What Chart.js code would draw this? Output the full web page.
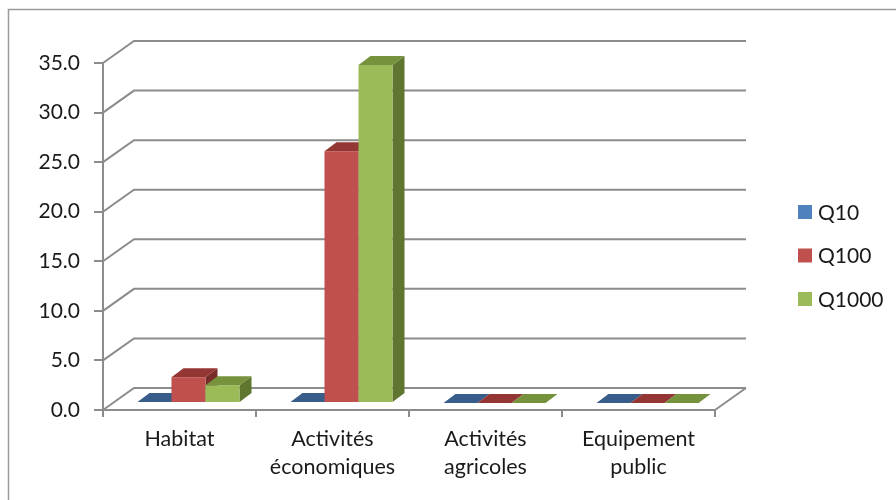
<!DOCTYPE html>
<html>
<head>
<meta charset="utf-8">
<script src="https://cdn.jsdelivr.net/npm/chart.js@4"></script>
<style>
  html, body { margin: 0; padding: 0; background: #fff; }
  #wrap { width: 896px; height: 500px; }
</style>
</head>
<body>
<div id="wrap"><canvas id="chart" width="896" height="500"></canvas></div>
<script>
const categories = [['Habitat'], ['Activités', 'économiques'], ['Activités', 'agricoles'], ['Equipement', 'public']]
const seriesNames = ['Q10', 'Q100', 'Q1000']
const q10 = [0.1, 0.1, 0, 0]
const q100 = [2.6, 25.4, 0, 0]
const q1000 = [1.8, 34.1, 0, 0]
const yTicks = [0, 5, 10, 15, 20, 25, 30, 35]

const FONT = 'Lato, "Open Sans", sans-serif'
const GRID = '#8c8c8c'
// front / top / side colours for each series
const SHADES = [
  { front: '#4f81bd', top: '#385d8a', side: '#2c4d75' },
  { front: '#c0504d', top: '#943634', side: '#772c2a' },
  { front: '#9bbb59', top: '#76923c', side: '#5f7530' },
]
const WALL = { dx: 31, dy: -22 }
const BAR_SHIFT = { dx: 9, dy: -7 }
const BAR_DEPTH = { dx: 12, dy: -9 }

const poly = (ctx, pts, fill) => {
  ctx.beginPath()
  ctx.moveTo(pts[0][0], pts[0][1])
  pts.slice(1).forEach(([x, y]) => ctx.lineTo(x, y))
  ctx.closePath()
  ctx.fillStyle = fill
  ctx.fill()
}

const threeD = {
  id: 'threeD',
  beforeDraw(chart) {
    const { ctx } = chart
    ctx.save()
    ctx.strokeStyle = '#9a9a9a'
    ctx.lineWidth = 1.5
    ctx.strokeRect(8.5, 9.5, 900, 520)
    ctx.restore()
  },
  beforeDatasetsDraw(chart) {
    const { ctx, chartArea } = chart
    const y = chart.scales.y
    const { left, right, bottom } = chartArea
    ctx.save()
    ctx.strokeStyle = GRID
    ctx.lineWidth = 2
    yTicks.forEach((v) => {
      const py = y.getPixelForValue(v)
      ctx.beginPath()
      ctx.moveTo(left, py)
      ctx.lineTo(left + WALL.dx, py + WALL.dy)
      ctx.lineTo(right + WALL.dx, py + WALL.dy)
      ctx.stroke()
    })
    // floor right edge
    ctx.beginPath()
    ctx.moveTo(right, bottom)
    ctx.lineTo(right + WALL.dx, bottom + WALL.dy)
    ctx.stroke()

    chart.data.datasets.forEach((ds, i) => {
      const meta = chart.getDatasetMeta(i)
      const c = SHADES[i]
      meta.data.forEach((bar) => {
        const x0 = bar.x - bar.width / 2 + BAR_SHIFT.dx
        const x1 = bar.x + bar.width / 2 + BAR_SHIFT.dx
        const yt = bar.y + BAR_SHIFT.dy
        const yb = bar.base + BAR_SHIFT.dy
        const { dx, dy } = BAR_DEPTH
        poly(ctx, [[x1, yt], [x1 + dx, yt + dy], [x1 + dx, yb + dy], [x1, yb]], c.side)
        if (yb - yt > 0.5) poly(ctx, [[x0, yt], [x1, yt], [x1, yb], [x0, yb]], c.front)
        poly(ctx, [[x0, yt], [x1, yt], [x1 + dx, yt + dy], [x0 + dx, yt + dy]], c.top)
      })
    })
    ctx.restore()
    return false
  },
  afterDraw(chart) {
    const { ctx } = chart
    ctx.save()
    ctx.font = '21px ' + FONT
    ctx.textBaseline = 'middle'
    ctx.textAlign = 'left'
    chart.data.datasets.forEach((ds, i) => {
      const cy = 212 + i * 43.5
      ctx.fillStyle = ds.backgroundColor
      ctx.fillRect(798, cy - 7, 14, 14)
      ctx.fillStyle = '#1a1a1a'
      ctx.fillText(ds.label, 818, cy + 1)
    })
    ctx.restore()
  },
}

const values = [q10, q100, q1000]

new Chart(document.getElementById('chart'), {
  type: 'bar',
  data: {
    labels: categories,
    datasets: seriesNames.map((name, i) => ({
      label: name,
      data: values[i],
      backgroundColor: SHADES[i].front,
      categoryPercentage: 0.667,
      barPercentage: 1,
    })),
  },
  options: {
    responsive: false,
    animation: false,
    layout: { padding: { left: 8, top: 63, right: 181, bottom: 0 } },
    plugins: {
      legend: { display: false },
      tooltip: { enabled: false },
    },
    scales: {
      x: {
        afterFit: (s) => { s.height = 90 },
        grid: { drawOnChartArea: false, tickLength: 7, color: GRID, lineWidth: 2 },
        border: { color: GRID, width: 2 },
        ticks: {
          color: '#1a1a1a',
          font: { family: FONT, size: 21.5, lineHeight: 1.3 },
          padding: 8,
          maxRotation: 0,
        },
      },
      y: {
        min: 0,
        max: 35,
        afterFit: (s) => { s.width = 95 },
        afterBuildTicks: (s) => { s.ticks = yTicks.map((v) => ({ value: v })) },
        grid: { drawOnChartArea: false, tickLength: 9, color: GRID, lineWidth: 2 },
        border: { color: GRID, width: 2 },
        ticks: {
          color: '#1a1a1a',
          font: { family: FONT, size: 21 },
          padding: 14,
          callback: (v) => Number(v).toFixed(1),
        },
      },
    },
  },
  plugins: [threeD],
})
</script>
</body>
</html>
